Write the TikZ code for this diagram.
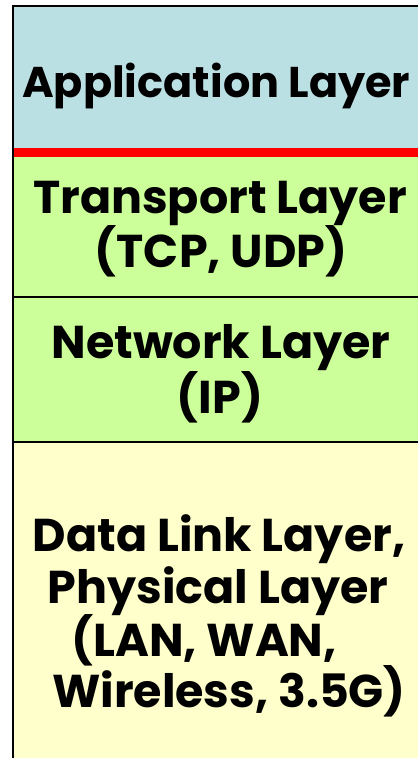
\documentclass[tikz,border=0pt]{standalone}
\usepackage{fontspec}
\setmainfont{Poppins}
\definecolor{appblue}{HTML}{BBE0E3}
\definecolor{layergreen}{HTML}{CCFF99}
\definecolor{linkyellow}{HTML}{FFFFCC}
\begin{document}
\begin{tikzpicture}[x=1pt,y=-1pt,
  lbl/.style={font=\fontsize{46}{52}\selectfont\bfseries, align=center,
    text=black, inner sep=0pt, anchor=base},
  divider/.style={line width=2pt, draw=black}]
\useasboundingbox (0,0) rectangle (418,758);
% layer bands
\fill[appblue]    (13,6)   rectangle (418,152);
\fill[layergreen] (13,152) rectangle (418,442);
\fill[linkyellow] (13,442) rectangle (418,758);
% boundaries
\draw[line width=9pt, red] (13,152) -- (418,152);
\draw[divider] (13,297) -- (418,297);
\draw[divider] (13,442) -- (418,442);
\draw[line width=1.5pt] (12,6) -- (418,6);
\draw[line width=2.2pt] (13,5) -- (13,758);
% labels
\node[lbl, font=\fontsize{43}{52}\selectfont\bfseries, anchor=base west]
  (app) at (22,97) {Application Layer};
\node[lbl] (tr1) at (220,213) {Transport Layer};
\node[lbl] (tr2) at (221,267) {(TCP, UDP)};
\node[lbl] (nw1) at (221,358) {Network Layer};
\node[lbl] (nw2) at (220,413) {(IP)};
\node[lbl] (dl1) at (219,551) {Data Link Layer,};
\node[lbl] (dl2) at (218,603) {Physical Layer};
\node[lbl] (dl3) at (204,656) {(LAN, WAN,};
\node[lbl] (dl4) at (229,707) {Wireless, 3.5G)};
\end{tikzpicture}
\end{document}
